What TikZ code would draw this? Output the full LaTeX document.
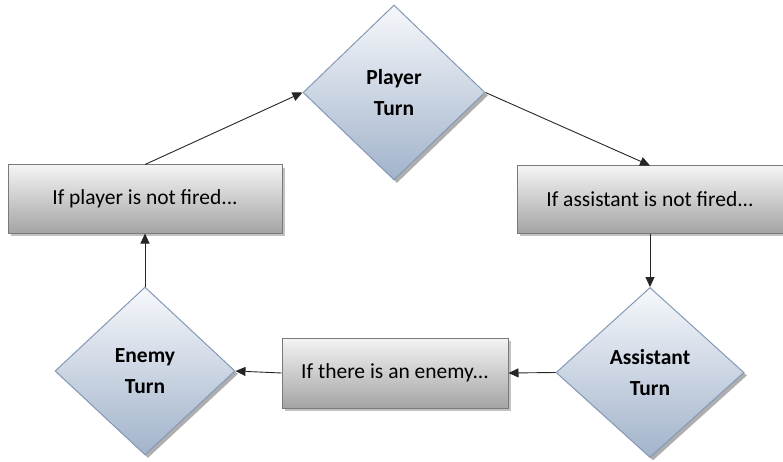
\documentclass[tikz,border=0pt]{standalone}
\usepackage{fontspec}
\setmainfont{Carlito}
\usetikzlibrary{shapes.geometric,shadows,arrows.meta}
\definecolor{dtop}{HTML}{F6F8FB}
\definecolor{dbot}{HTML}{A2B3CB}
\definecolor{dline}{HTML}{8499B6}
\definecolor{btop}{HTML}{F4F4F4}
\definecolor{bbot}{HTML}{A4A4A4}
\definecolor{bline}{HTML}{7A7A7A}
\tikzset{
  turn/.style={diamond, draw=dline, line width=1pt, top color=dtop, bottom color=dbot,
    inner sep=0pt, align=center, font=\fontsize{21.5}{31}\selectfont\bfseries,
    drop shadow={shadow xshift=3pt, shadow yshift=-3pt, fill=black!45, opacity=0.7}},
  cond/.style={rectangle, draw=bline, line width=1pt, top color=btop, bottom color=bbot,
    inner sep=0pt, font=\fontsize{21.5}{25}\selectfont,
    drop shadow={shadow xshift=3pt, shadow yshift=-3pt, fill=black!40, opacity=0.6}},
  flow/.style={draw=black!85, line width=0.9pt, -{Triangle[length=10pt,width=9pt]}}
}
\begin{document}
\begin{tikzpicture}[x=1pt,y=-1pt]
\useasboundingbox (0,0) rectangle (783,462);
\node[turn, minimum width=182pt, minimum height=175pt] (player) at (394,92.5) {Player\\Turn};
\node[turn, minimum width=180pt, minimum height=168pt] (enemy) at (145,371) {Enemy\\Turn};
\node[turn, minimum width=188pt, minimum height=170pt] (assistant) at (650,372.5) {Assistant\\Turn};
\node[cond, minimum width=274pt, minimum height=68pt] (pbox) at (145,199) {If player is not fired...};
\node[cond, minimum width=266pt, minimum height=67pt] (abox) at (650,199.5) {If assistant is not fired...};
\node[cond, minimum width=226pt, minimum height=70pt] (ebox) at (395,373) {If there is an enemy...};
\draw[flow] (pbox.north) -- (player.west);
\draw[flow] (player.east) -- (abox.north);
\draw[flow] (abox.south) -- (assistant.north);
\draw[flow] (assistant.west) -- (ebox.east);
\draw[flow] (ebox.west) -- (enemy.east);
\draw[flow] (enemy.north) -- (pbox.south);
\end{tikzpicture}
\end{document}
